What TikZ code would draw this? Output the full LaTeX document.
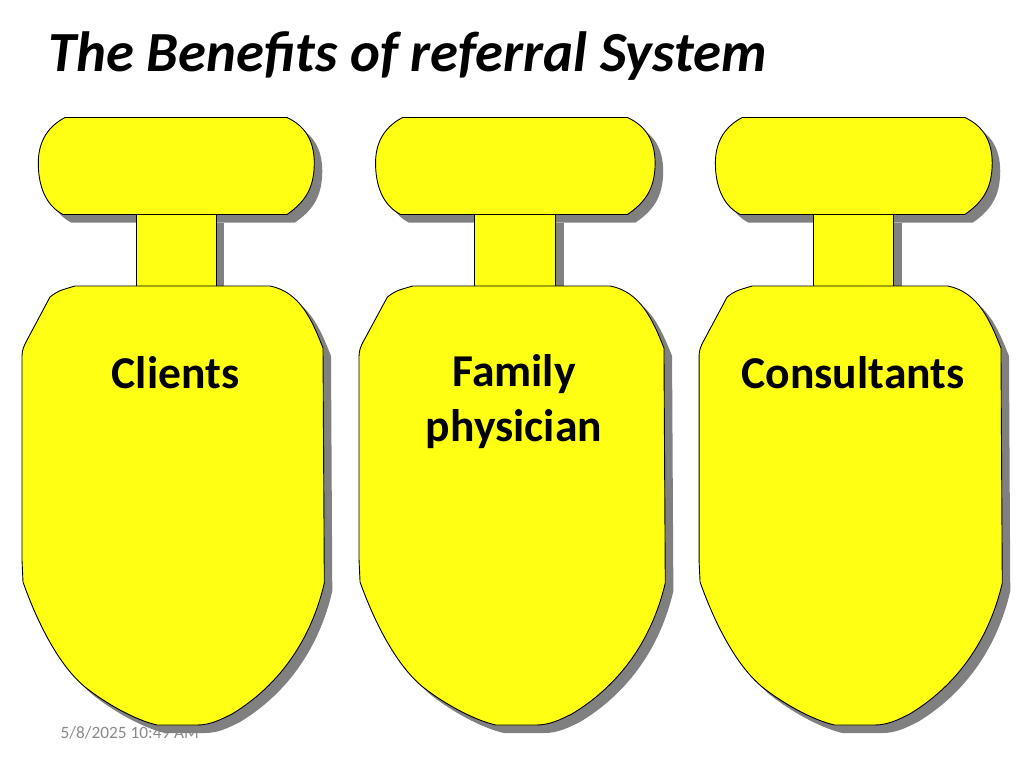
\documentclass[tikz,border=0pt]{standalone}
\usepackage{fontspec}
\setmainfont{Carlito}
\definecolor{flaskfill}{HTML}{FFFF14}
\definecolor{flaskshadow}{HTML}{808080}
\definecolor{datecolor}{HTML}{8B8B8B}
\tikzset{
  flaskpart/.style={fill=flaskfill,draw=black,line width=0.9pt,line join=round},
  shadowpart/.style={fill=flaskshadow,draw=none},
  heading/.style={font=\fontsize{45.6}{55}\selectfont\bfseries,align=center,text=black,inner sep=0pt},
}
\newcommand{\pillpath}{(65,117.5) -- (287,117.5) .. controls (305,126) and (314,140) .. (314.3,163) .. controls (314,185) and (308,200) .. (287,214.5) -- (63,214.5) .. controls (45,205) and (38.3,185) .. (38.3,163) .. controls (38.3,145) and (45,128) .. (65,117.5) -- cycle}
\newcommand{\neckpath}{(136,214.5) -- (216,214.5) -- (216,286) -- (136,286) -- cycle}
\newcommand{\bodypath}{(75,286) -- (270,286) .. controls (300,292) and (312,320) .. (323,348) -- (324.3,583) .. controls (314,628) and (288,680) .. (232,714) .. controls (220,720) and (210,725) .. (197,725) -- (157,725) .. controls (135,720) and (105,703) .. (85,687) .. controls (62,668) and (40,630) .. (23,582) -- (22,560) -- (22,356) .. controls (22,350) and (24,346) .. (26,342) -- (50,297) .. controls (58,291) .. (75,286) -- cycle}
\newcommand{\flaskshape}[2]{%
  \begin{scope}[shift={(#1,0)}]
    \begin{scope}[shift={(173,0)},xscale=#2,shift={(-173,0)}]
      \fill[shadowpart,shift={(8,8)}] \pillpath;
      \fill[shadowpart,shift={(8,8)}] \neckpath;
      \fill[shadowpart,shift={(8,8)}] \bodypath;
      \draw[flaskpart] \pillpath;
      \draw[flaskpart] \neckpath;
      \draw[flaskpart] \bodypath;
    \end{scope}
  \end{scope}}
\begin{document}
\begin{tikzpicture}[x=1pt,y=-1pt]
\useasboundingbox (0,0) rectangle (1024,768);
\fill[white] (0,0) rectangle (1024,768);
\node[anchor=west,inner sep=0pt,font=\fontsize{56.7}{68}\selectfont\bfseries\itshape] (title) at (48,56) {The Benefits of referral System};
\node[anchor=west,inner sep=0pt,text=datecolor,font=\fontsize{17.3}{21}\selectfont] (date) at (60.5,733) {5/8/2025 10:49 AM};
\flaskshape{0}{1}
\flaskshape{339}{1.013}
\flaskshape{677.5}{1.003}
\node[heading] (clients) at (175.5,372.5) {Clients};
\node[heading] (family) at (514,402) {Family\\physician};
\node[heading] (consultants) at (853,372.5) {Consultants};
\end{tikzpicture}
\end{document}
